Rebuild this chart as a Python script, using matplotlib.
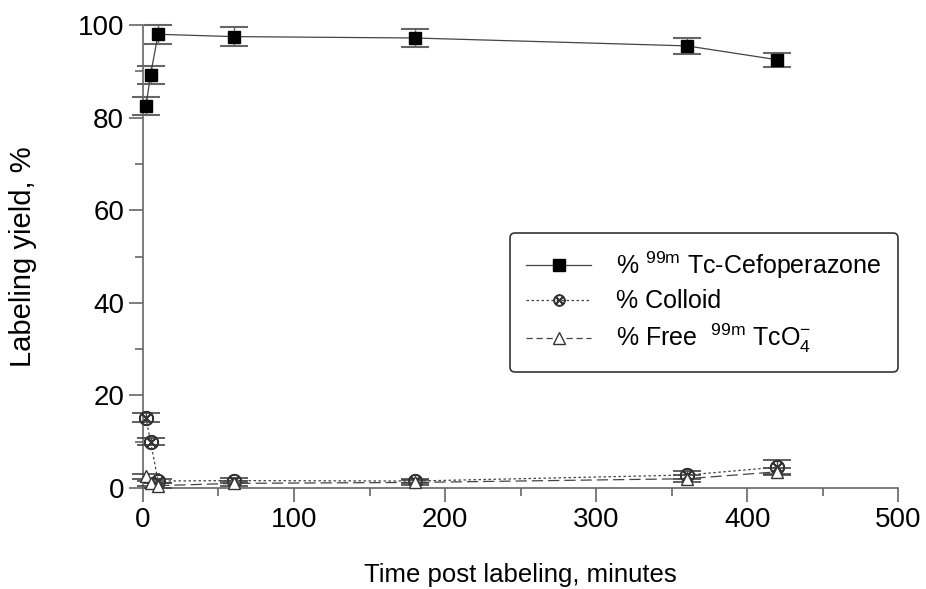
import matplotlib
matplotlib.use("Agg")
import matplotlib.pyplot as plt
from matplotlib.ticker import MultipleLocator
from matplotlib.lines import Line2D

plt.rcParams['font.family'] = ['Liberation Sans', 'DejaVu Sans']
plt.rcParams['mathtext.fontset'] = 'custom'
plt.rcParams['mathtext.rm'] = 'Liberation Sans'
plt.rcParams['mathtext.it'] = 'Liberation Sans'

time = [2, 5, 10, 60, 180, 360, 420]
cefo = [82.5, 89.2, 98.0, 97.5, 97.2, 95.5, 92.5]
cefo_err = [2.0, 2.0, 2.0, 2.0, 2.0, 1.8, 1.5]
colloid = [15.2, 10.0, 1.5, 1.6, 1.5, 2.8, 4.5]
colloid_err = [1.0, 0.8, 0.5, 0.5, 0.5, 0.8, 1.5]
free = [2.5, 1.0, 0.5, 1.0, 1.2, 2.0, 3.5]
free_err = [0.5, 0.5, 0.5, 0.5, 0.5, 0.8, 0.8]

labels = [r'% $^{99m}$ Tc-Cefoperazone', '% Colloid', r'% Free  $^{99m}$ TcO$_4^{-}$']

fig = plt.figure(figsize=(9.26, 5.89), dpi=100)
ax = fig.add_axes([0.1544, 0.1715, 0.8156, 0.786])

ax.errorbar(time, cefo, yerr=cefo_err, color='#444444', lw=0.9, ls='-',
            marker='s', ms=9, mfc='black', mec='black', ecolor='#666666',
            elinewidth=1, capsize=10, capthick=1.5, clip_on=False, zorder=3)
ax.errorbar(time, colloid, yerr=colloid_err, color='#444444', lw=0.9, ls=(0, (2, 2)),
            marker=r'$\otimes$', ms=10, mfc='white', mec='#333333', ecolor='#444444',
            elinewidth=1, capsize=10, capthick=1.2, clip_on=False, zorder=3)
ax.errorbar(time, free, yerr=free_err, color='#444444', lw=0.9, ls=(0, (9, 4)),
            marker='^', ms=9, mfc='white', mec='#333333', ecolor='#444444',
            elinewidth=1, capsize=10, capthick=1.2, clip_on=False, zorder=3)

ax.set_xlim(0, 500)
ax.set_ylim(0, 100)
ax.xaxis.set_major_locator(MultipleLocator(100))
ax.xaxis.set_minor_locator(MultipleLocator(50))
ax.yaxis.set_major_locator(MultipleLocator(20))
ax.yaxis.set_minor_locator(MultipleLocator(10))
for s in ['top', 'right']:
    ax.spines[s].set_visible(False)
for s in ['left', 'bottom']:
    ax.spines[s].set_color('#666666')
    ax.spines[s].set_linewidth(1.2)
ax.tick_params(which='major', length=10, width=1.2, color='#666666', labelsize=20)
ax.tick_params(which='minor', length=6, width=1.2, color='#666666')

ax.set_xlabel('Time post labeling, minutes', fontsize=18.5, labelpad=22)
ax.set_ylabel('Labeling yield, %', fontsize=21, labelpad=29)

handles = [
    Line2D([], [], color='#444444', lw=0.9, ls='-', marker='s', ms=8, mfc='black', mec='black'),
    Line2D([], [], color='#444444', lw=0.9, ls=(0, (2, 2)), marker=r'$\otimes$', ms=8,
           mfc='white', mec='#333333'),
    Line2D([], [], color='#444444', lw=0.9, ls=(0, (5, 3)), marker='^', ms=8,
           mfc='white', mec='#333333'),
]
leg = ax.legend(handles, labels, loc='upper left', bbox_to_anchor=(0.486, 0.551), fontsize=18,
                frameon=True, fancybox=True, edgecolor='#333333', framealpha=1,
                handlelength=2.6, labelspacing=0.35, borderpad=0.65, handletextpad=1.0,
                borderaxespad=0)
leg.get_frame().set_linewidth(1.2)

fig.savefig('out.png', dpi=100)
